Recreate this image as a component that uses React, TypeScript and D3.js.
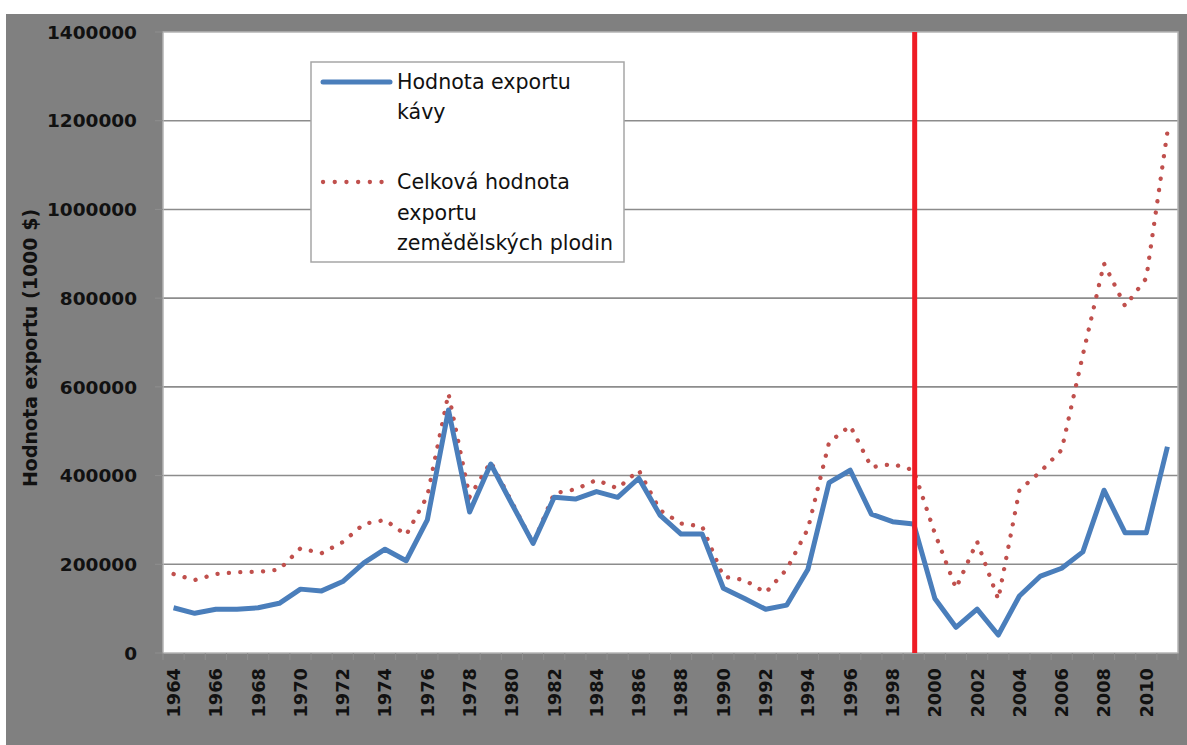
import React from "react";
import * as d3 from "d3";

// years on the x axis
const years = [
  1964, 1965, 1966, 1967, 1968, 1969, 1970, 1971, 1972, 1973,
  1974, 1975, 1976, 1977, 1978, 1979, 1980, 1981, 1982, 1983,
  1984, 1985, 1986, 1987, 1988, 1989, 1990, 1991, 1992, 1993,
  1994, 1995, 1996, 1997, 1998, 1999, 2000, 2001, 2002, 2003,
  2004, 2005, 2006, 2007, 2008, 2009, 2010, 2011,
];

// Hodnota exportu kávy (1000 $)
const coffee = [
  102000, 89500, 98500, 98500, 102000, 112000, 144000, 140000, 161000, 203000,
  234000, 208000, 300000, 548000, 318000, 426000, 336000, 247000, 351000, 347000,
  364000, 351000, 394000, 311000, 268000, 268000, 146000, 123000, 98500, 108000,
  189000, 384000, 412000, 313000, 296000, 291000, 123000, 58000, 99000, 40500,
  128500, 173500, 191000, 228000, 367000, 271000, 271000, 465000,
];

// Celková hodnota exportu zemědělských plodin (1000 $)
const total = [
  178000, 164500, 178000, 182000, 183000, 188000, 236000, 225000, 250000, 291000,
  300000, 266000, 354000, 585000, 352000, 431000, 340000, 247000, 360000, 369000,
  390000, 371000, 412000, 322000, 292000, 285000, 172000, 164500, 136000, 189000,
  280000, 475000, 512000, 419000, 426000, 412000, 270000, 146000, 251000, 121000,
  367000, 409000, 458000, 672000, 878000, 782000, 845000, 1175000,
];

const yTicks = [0, 200000, 400000, 600000, 800000, 1000000, 1200000, 1400000];
const xLabelYears = years.filter((y) => (y - 1964) % 2 === 0);
const markerYear = 1999;

const W = 1187;
const H = 745;
const left = 163, right = 1178, top = 32, bottom = 653;

export default function App() {
  const x = d3.scaleBand<number>().domain(years).range([left, right]).padding(0);
  const cx = (yr: number) => (x(yr) as number) + x.bandwidth() / 2;
  const y = d3.scaleLinear().domain([0, 1400000]).range([bottom, top]);

  const line = d3
    .line<number>()
    .x((_, i) => cx(years[i]))
    .y((d) => y(d));

  const tickFont = "'DejaVu Sans', sans-serif";

  return (
    <svg width={W} height={H} style={{ position: "absolute", left: 0, top: 0 }}>
      <rect x={0} y={0} width={W} height={H} fill="#ffffff" />
      <rect x={6} y={14} width={W - 6} height={H - 14} fill="#808080" />

      {/* plot area */}
      <rect x={left} y={top} width={right - left} height={bottom - top} fill="#ffffff" />

      {/* gridlines */}
      {yTicks.slice(1, -1).map((t) => (
        <line key={t} x1={left} x2={right} y1={y(t)} y2={y(t)} stroke="#8c8c8c" strokeWidth={1.6} />
      ))}
      <rect
        x={left}
        y={top}
        width={right - left}
        height={bottom - top}
        fill="none"
        stroke="#b4b4b4"
        strokeWidth={1.5}
      />

      {/* y ticks */}
      {yTicks.map((t) => (
        <line key={"yt" + t} x1={left - 8} x2={left} y1={y(t)} y2={y(t)} stroke="#8e8e8e" strokeWidth={1} />
      ))}
      {/* x ticks at category boundaries */}
      {years.concat([years[years.length - 1] + 1]).map((yr, i) => {
        const xx = left + i * x.bandwidth();
        return <line key={"xt" + yr} x1={xx} x2={xx} y1={bottom} y2={bottom + 7} stroke="#8e8e8e" strokeWidth={1} />;
      })}

      {/* y tick labels */}
      {yTicks.map((t) => (
        <text
          key={"yl" + t}
          x={137}
          y={y(t)}
          dy="0.36em"
          textAnchor="end"
          fontFamily={tickFont}
          fontWeight="bold"
          fontSize={18.5}
          fill="#111"
        >
          {t}
        </text>
      ))}

      {/* x tick labels */}
      {xLabelYears.map((yr) => (
        <text
          key={"xl" + yr}
          transform={`translate(${cx(yr)},${668}) rotate(-90)`}
          dy="0.36em"
          textAnchor="end"
          fontFamily={tickFont}
          fontWeight="bold"
          fontSize={17.8}
          fill="#111"
        >
          {yr}
        </text>
      ))}

      {/* y axis title */}
      <text
        transform={`translate(30,348) rotate(-90)`}
        dy="0.36em"
        textAnchor="middle"
        fontFamily={tickFont}
        fontWeight="bold"
        fontSize={19}
        fill="#111"
      >
        Hodnota exportu (1000 $)
      </text>

      {/* series */}
      <path
        d={line(total) || ""}
        fill="none"
        stroke="#c0504d"
        strokeWidth={4.3}
        strokeDasharray="0.1 11.3"
        strokeLinecap="round"
      />
      <path d={line(coffee) || ""} fill="none" stroke="#4a7ebb" strokeWidth={5} strokeLinejoin="round" />

      {/* marker line */}
      <line
        x1={cx(markerYear) + 1}
        x2={cx(markerYear) + 1}
        y1={top}
        y2={bottom}
        stroke="#ee1c25"
        strokeWidth={5}
      />

      {/* legend */}
      <g>
        <rect x={311} y={62} width={313} height={200} fill="#ffffff" stroke="#a6a6a6" strokeWidth={1.5} />
        <line x1={323} x2={390} y1={82} y2={82} stroke="#4a7ebb" strokeWidth={5} strokeLinecap="round" />
        <line
          x1={323}
          x2={385}
          y1={182}
          y2={182}
          stroke="#c0504d"
          strokeWidth={4.3}
          strokeDasharray="0.1 11.6"
          strokeLinecap="round"
        />
        <text fontFamily={tickFont} fontSize={20.6} fill="#111">
          <tspan x={397} y={89}>Hodnota exportu</tspan>
          <tspan x={397} y={119}>kávy</tspan>
          <tspan x={397} y={189}>Celková hodnota</tspan>
          <tspan x={397} y={220}>exportu</tspan>
          <tspan x={397} y={250}>zemědělských plodin</tspan>
        </text>
      </g>
    </svg>
  );
}
